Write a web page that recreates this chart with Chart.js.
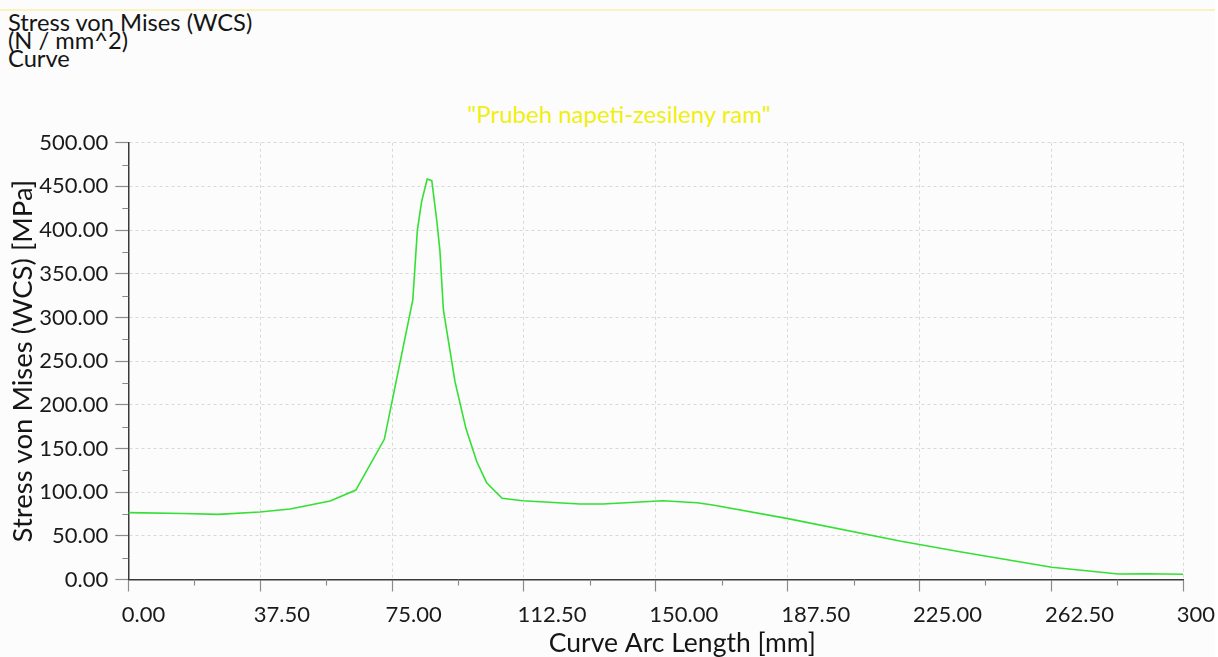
<!DOCTYPE html>
<html>
<head>
<meta charset="utf-8">
<title>Stress von Mises (WCS)</title>
<script src="https://cdn.jsdelivr.net/npm/chart.js@4.4.1/dist/chart.umd.min.js"></script>
<style>
  html, body { margin: 0; padding: 0; background: #ffffff; }
  #page { position: relative; width: 1215px; height: 657px; background: #fcfcfc; overflow: visible; }
  #rule { position: absolute; left: 0; top: 9px; width: 1215px; height: 2px; background: #f9f3c2; }
  #header { position: absolute; left: 8px; top: 12.7px; font-family: Lato, "Open Sans", sans-serif;
            font-size: 23.7px; line-height: 18.2px; color: #151515; white-space: pre; }
  #plotTitle { position: absolute; top: 98.6px; left: 0; width: 1238px; text-align: center; line-height: normal;
               font-family: Lato, "Open Sans", sans-serif; font-size: 24px; color: #f0ef12; white-space: pre; }
  #wrap { position: absolute; left: 0; top: 0; width: 1218px; height: 657px; }
</style>
</head>
<body>
<div id="page">
  <div id="rule"></div>
  <div id="header">Stress von Mises (WCS)
(N / mm^2)
Curve</div>
  <div id="plotTitle">"Prubeh napeti-zesileny ram"</div>
  <div id="wrap"><canvas id="chart" width="1218" height="657"></canvas></div>
</div>
<script>
// Arc length along the curve (mm) and von Mises stress (MPa)
const arcLength = [0, 15.6, 25.5, 37.4, 46.0, 57.4, 64.7, 72.8, 80.9, 82.2, 83.4, 85.0, 86.3, 87.7, 88.6, 89.6,
                   92.9, 96.0, 99.1, 101.9, 106.3, 112.2, 128.4, 135.0, 152.0, 161.7, 166.2, 187.2, 219.4,
                   236.5, 262.6, 281.5, 289.6, 300];
const stress = [76.5, 75.5, 74.6, 77.3, 80.7, 89.9, 102.4, 160.5, 320, 400, 432.5, 458.4, 456.5, 411.5, 377, 308.5,
                226.4, 173, 134.8, 110.8, 93, 90.2, 86.4, 86.4, 90.2, 87.9, 85.3, 70, 44,
                31.8, 14, 6.3, 6.6, 6];

// Axis tick labels
const xTickLabels = ['0.00', '37.50', '75.00', '112.50', '150.00', '187.50', '225.00', '262.50', '300'];
const yTickLabels = ['0.00', '50.00', '100.00', '150.00', '200.00', '250.00', '300.00', '350.00', '400.00', '450.00', '500.00'];

const FONT = 'Lato, "Open Sans", sans-serif';

// Short minor ticks halfway between the labelled ones
const minorTicks = {
  id: 'minorTicks',
  afterDraw(chart) {
    const { ctx, scales: { x, y } } = chart;
    ctx.save();
    ctx.strokeStyle = '#8c8c8c';
    ctx.lineWidth = 1.2;
    ctx.beginPath();
    for (let v = 25; v < 500; v += 50) {
      const py = Math.round(y.getPixelForValue(v)) + 0.5;
      ctx.moveTo(x.left - 6, py);
      ctx.lineTo(x.left, py);
    }
    for (let v = 18.75; v < 300; v += 37.5) {
      const px = Math.round(x.getPixelForValue(v)) + 0.5;
      ctx.moveTo(px, y.bottom);
      ctx.lineTo(px, y.bottom + 6);
    }
    ctx.stroke();
    ctx.restore();
  }
};

new Chart(document.getElementById('chart'), {
  type: 'line',
  data: {
    datasets: [{
      data: arcLength.map((a, i) => ({ x: a, y: stress[i] })),
      borderColor: '#33e033',
      borderWidth: 1.6,
      pointRadius: 0,
      tension: 0,
      fill: false
    }]
  },
  options: {
    responsive: false,
    animation: false,
    layout: { padding: { left: 0, top: 142.7, right: 34.7, bottom: 0 } },
    plugins: { legend: { display: false }, tooltip: { enabled: false }, title: { display: false } },
    scales: {
      x: {
        type: 'linear',
        min: 0,
        max: 300,
        afterFit(s) {
          s.height = 77.5;
          // the last label may run into the right margin
          s.paddingLeft = 0;
          s.paddingRight = 0;
        },
        ticks: {
          stepSize: 37.5,
          autoSkip: false,
          maxRotation: 0,
          align: 'start',
          labelOffset: -6.5,
          padding: 10,
          color: '#1a1a1a',
          font: { family: FONT, size: 22 },
          callback: (v, i) => xTickLabels[i]
        },
        grid: { color: '#d9d9d9', lineWidth: 1, tickLength: 12, tickColor: '#8c8c8c', tickWidth: 1.2 },
        border: { color: '#3a3a3a', width: 1.5, dash: [3, 3] },
        title: {
          display: true,
          text: '\u2003\u2003\u2002Curve Arc Length [mm]',
          color: '#151515',
          font: { family: FONT, size: 26.5, lineHeight: 1 },
          padding: { top: 0, bottom: 0 }
        }
      },
      y: {
        min: 0,
        max: 500,
        afterFit(s) { s.width = 128.3; },
        ticks: {
          stepSize: 50,
          padding: 7,
          color: '#1a1a1a',
          font: { family: FONT, size: 22 },
          callback: (v, i) => yTickLabels[i]
        },
        grid: { color: '#d9d9d9', lineWidth: 1, tickLength: 13, tickColor: '#8c8c8c', tickWidth: 1.2 },
        border: { color: '#3a3a3a', width: 1.5, dash: [3, 3] },
        title: {
          display: true,
          text: 'Stress von Mises (WCS) [MPa]',
          color: '#151515',
          font: { family: FONT, size: 27.5, lineHeight: 1 },
          padding: { top: 9, bottom: 0 }
        }
      }
    }
  },
  plugins: [minorTicks]
});
</script>
</body>
</html>
